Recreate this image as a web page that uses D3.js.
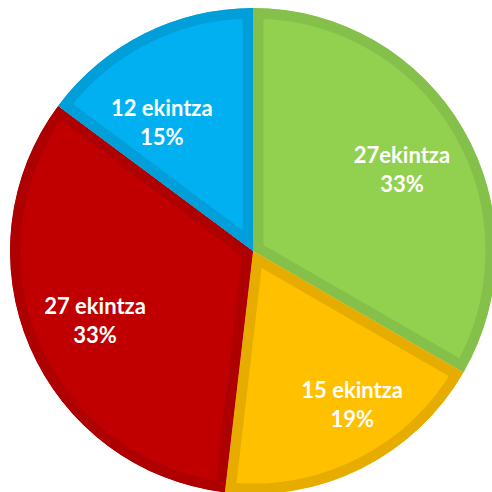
<!DOCTYPE html>
<html>
<head>
<meta charset="utf-8">
<script src="https://cdn.jsdelivr.net/npm/d3@7"></script>
<style>
  html, body { margin: 0; padding: 0; background: #fff; }
  svg { display: block; }
</style>
</head>
<body>
<svg id="pie" width="492" height="492"></svg>
<script>
// slice data, clockwise from 12 o'clock
const counts = [27, 15, 27, 12];
const labels = ["27ekintza", "15 ekintza", "27 ekintza", "12 ekintza"];
const percents = ["33%", "19%", "33%", "15%"];
const fills = ["#92D050", "#FFC000", "#C00000", "#00B0F0"];
const borders = ["#85C04A", "#E6AD00", "#AE0000", "#009FD9"];

let svg = d3.select("svg#pie");
let cx = 253, cy = 251, radius = 243;

let chart = svg.append("g")
  .attr("transform", "translate(" + cx + "," + cy + ")");

let pie = d3.pie().sort(null).value(d => d);
let arcs = pie(counts);

let arc = d3.arc().innerRadius(0).outerRadius(radius);
let labelArc = d3.arc().innerRadius(0).outerRadius(2 * 172);

// excel places the labels a bit off the centroid
let nudge = [[0, 8], [22, 3], [0, 5], [-14, 29]];

let defs = svg.append("defs");
defs.selectAll("clipPath")
  .data(arcs)
  .join("clipPath")
  .attr("id", (d, i) => "clip" + i)
  .append("path")
  .attr("d", arc);

// slices with a darker inner border
chart.selectAll("path.slice")
  .data(arcs)
  .join("path")
  .attr("class", "slice")
  .attr("d", arc)
  .attr("fill", (d, i) => fills[i])
  .attr("stroke", (d, i) => borders[i])
  .attr("stroke-width", 21)
  .attr("stroke-linejoin", "miter")
  .attr("clip-path", (d, i) => "url(#clip" + i + ")");

// labels
let lab = chart.selectAll("text")
  .data(arcs)
  .join("text")
  .attr("text-anchor", "middle")
  .attr("fill", "#fff")
  .style("font-family", "Lato, 'Open Sans', sans-serif")
  .style("font-weight", "bold")
  .style("font-size", "22px")
  .attr("transform", (d, i) => {
    let c = labelArc.centroid(d);
    return "translate(" + (c[0] + nudge[i][0]) + "," + (c[1] + nudge[i][1]) + ")";
  });

lab.append("tspan").attr("x", 0).attr("y", -10).text((d, i) => labels[i]);
lab.append("tspan").attr("x", 0).attr("y", 19).text((d, i) => percents[i]);
</script>
</body>
</html>
